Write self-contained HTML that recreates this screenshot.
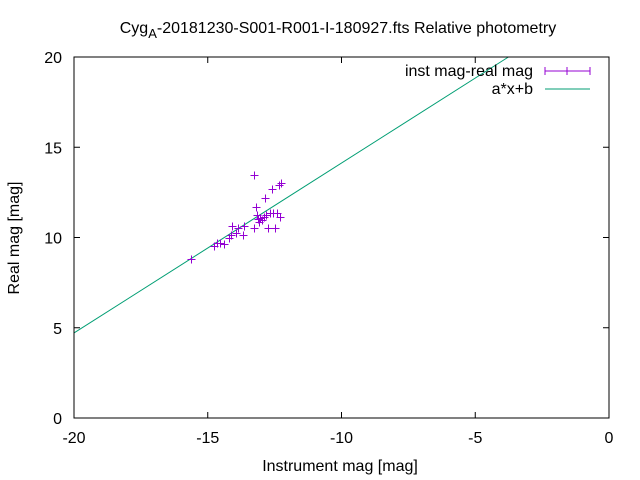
<!DOCTYPE html>
<html><head><meta charset="utf-8"><style>
body{margin:0;background:#fff}
svg{display:block;font-family:"Liberation Sans",sans-serif;font-size:16px}
</style></head><body>
<svg width="640" height="480" id="c">
<rect width="640" height="480" fill="#fff"/>
<text x="338" y="33" text-anchor="middle">Cyg<tspan font-size="13" dy="5">A</tspan><tspan dy="-5">-20181230-S001-R001-I-180927.fts Relative photometry</tspan></text>
<text x="340" y="471" text-anchor="middle">Instrument mag [mag]</text>
<text transform="translate(19,238) rotate(-90)" text-anchor="middle">Real mag [mag]</text>
<g id="ticks"></g>
<g id="marks"></g>
<rect x="74" y="57" width="535" height="361" fill="none" stroke="#000" stroke-width="1"/>
<text x="533" y="76" text-anchor="end">inst mag-real mag</text>
<g stroke="#9400d3"><line x1="545" y1="71" x2="590" y2="71"/><line x1="545" y1="67" x2="545" y2="75"/><line x1="590" y1="67" x2="590" y2="75"/><line x1="567" y1="67" x2="567" y2="75"/></g>
<text x="533" y="94" text-anchor="end">a*x+b</text>
<line x1="545" y1="89" x2="590" y2="89" stroke="#009e73"/>
</svg>
<script>
const xTicks=[-20,-15,-10,-5,0];
const yTicks=[0,5,10,15,20];
const instMag=[-15.61,-14.77,-14.67,-14.55,-14.40,-14.22,-14.13,-14.09,-13.93,-13.88,-13.68,-13.66,-13.28,-13.26,-13.18,-13.16,-13.10,-13.04,-12.97,-12.91,-12.85,-12.81,-12.73,-12.69,-12.60,-12.56,-12.48,-12.41,-12.35,-12.29,-12.25,-13.14];
const realMag=[8.79,9.53,9.68,9.71,9.62,9.96,10.14,10.64,10.27,10.51,10.14,10.64,13.46,10.51,11.71,11.25,10.88,11.06,10.97,11.15,12.17,11.25,10.51,11.34,12.67,11.37,10.51,11.34,12.91,11.15,13.00,11.01];
const fitA=0.9415, fitB=23.54;
const L=74,R=609,T=57,B=418;
const sx=v=>L+(v+20)/20*(R-L);
const sy=v=>B-v/20*(B-T);
const NS="http://www.w3.org/2000/svg";
const tk=document.getElementById('ticks'), mk=document.getElementById('marks');
function mkEl(tag,attrs,parent){const e=document.createElementNS(NS,tag);for(const k in attrs)e.setAttribute(k,attrs[k]);parent.appendChild(e);return e;}
xTicks.forEach(v=>{
  const x=sx(v);
  const l=mkEl('line',{x1:x,y1:B,x2:x,y2:B-6,stroke:'#000'},tk);
  
  
  const l2=mkEl('line',{x1:x,y1:T,x2:x,y2:T+6,stroke:'#000'},tk);
  
  
  const t=mkEl('text',{x:x,y:443,'text-anchor':'middle'},tk);t.textContent=v;
  
  
});
yTicks.forEach(v=>{
  const y=sy(v);
  const l=mkEl('line',{x1:L,y1:y,x2:L+6,y2:y,stroke:'#000'},tk);
  
  
  const l2=mkEl('line',{x1:R,y1:y,x2:R-6,y2:y,stroke:'#000'},tk);
  
  
  const t=mkEl('text',{x:62,y:y+6,'text-anchor':'end'},tk);t.textContent=v;
  
  
});
const x0=-20, x1=Math.min(0,(20-fitB)/fitA);
const fl=mkEl('line',{x1:sx(x0),y1:sy(fitA*x0+fitB),x2:sx(x1),y2:sy(fitA*x1+fitB),stroke:'#009e73','stroke-width':1},mk);


instMag.forEach((v,i)=>{
  const x=Math.round(sx(v))+0.5,y=Math.round(sy(realMag[i]))+0.5;
  const p=mkEl('path',{d:`M${x-4},${y}H${x+4}M${x},${y-4}V${y+4}`,stroke:'#9400d3','stroke-width':1,fill:'none','shape-rendering':'crispEdges'},mk);
  
  
});
</script>
</body></html>
